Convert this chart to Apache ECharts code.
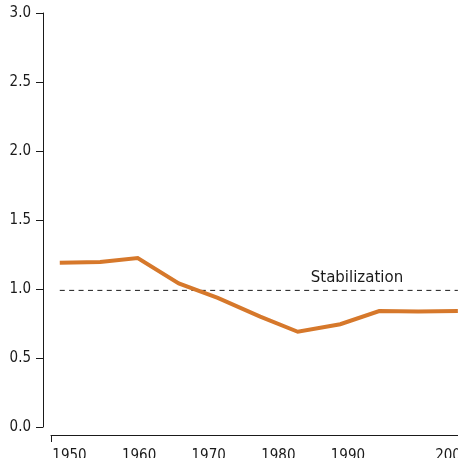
<!DOCTYPE html>
<html>
<head>
<meta charset="utf-8">
<script src="https://cdn.jsdelivr.net/npm/echarts@6/dist/echarts.min.js"></script>
<style>
  html, body { margin: 0; padding: 0; background: #fff; }
  #chart { width: 458px; height: 458px; }
</style>
</head>
<body>
<div id="chart"></div>
<script>
// years of the points
const years = [1948.6, 1954.4, 1959.8, 1965.7, 1971.3, 1977.4, 1982.8, 1988.9, 1994.5, 2000.1, 2005.8];
// values of the orange line
const values = [1.19, 1.195, 1.225, 1.04, 0.935, 0.80, 0.69, 0.745, 0.84, 0.837, 0.84];
// stabilization level (dashed line)
const stabYears = [1948.6, 2005.8];
const stabValue = 0.99;
const stabLabel = 'Stabilization';
// tick labels
const xLabels = [1950, 1960, 1970, 1980, 1990, 2005];
const xMin = 1947.34;
const xMax = 2005.82;

const narrow = '"Liberation Sans Narrow", "DejaVu Sans Condensed", sans-serif';

let myChart = echarts.init(document.getElementById('chart'));

let option = {
  animation: false,
  grid: { left: 51, right: 0, top: 13, bottom: 31, containLabel: false, outerBoundsMode: 'none' },
  xAxis: {
    type: 'value',
    min: xMin,
    max: xMax,
    offset: 8,
    splitLine: { show: false },
    axisLine: { show: true, onZero: false, lineStyle: { color: '#1a1a1a', width: 1 } },
    axisTick: { show: true, customValues: [xMin], length: 7, lineStyle: { color: '#1a1a1a' } },
    axisLabel: {
      customValues: xLabels,
      margin: 14,
      fontFamily: narrow,
      fontSize: 15,
      color: '#1a1a1a',
      formatter: v => String(Math.round(v))
    }
  },
  yAxis: {
    type: 'value',
    min: 0,
    max: 3,
    interval: 0.5,
    offset: 8,
    splitLine: { show: false },
    axisLine: { show: true, onZero: false, lineStyle: { color: '#1a1a1a', width: 1 } },
    axisTick: { show: true, length: 7, lineStyle: { color: '#1a1a1a' } },
    axisLabel: {
      margin: 12,
      fontFamily: narrow,
      fontSize: 15,
      color: '#1a1a1a',
      formatter: v => v.toFixed(1)
    }
  },
  series: [
    {
      name: 'stabilization',
      type: 'line',
      data: stabYears.map(y => [y, stabValue]),
      symbol: 'none',
      silent: true,
      lineStyle: { color: '#1a1a1a', width: 1, type: [5, 4.4] },
      markPoint: {
        symbol: 'circle',
        symbolSize: 0,
        data: [{ coord: [1991.3, 1.076] }],
        label: {
          show: true,
          position: 'inside',
          formatter: stabLabel,
          fontFamily: '"DejaVu Sans", sans-serif',
          fontSize: 15,
          color: '#1a1a1a'
        }
      }
    },
    {
      name: 'value',
      type: 'line',
      data: years.map((y, i) => [y, values[i]]),
      symbol: 'none',
      lineStyle: { color: '#d6782b', width: 4, join: 'miter' }
    }
  ]
};

myChart.setOption(option);
</script>
</body>
</html>
